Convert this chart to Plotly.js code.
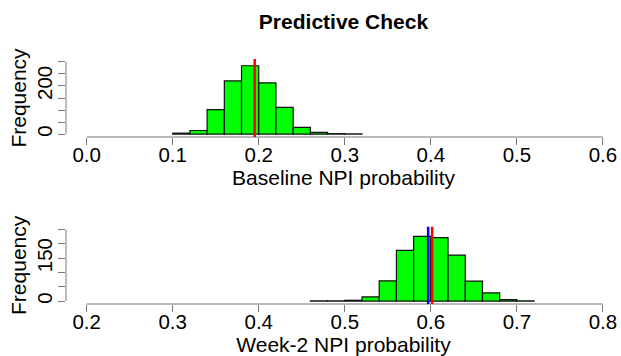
<!DOCTYPE html>
<html>
<head>
<meta charset="utf-8">
<script src="https://cdn.plot.ly/plotly-3.0.1.min.js"></script>
<style>html,body{margin:0;padding:0;background:#fff;}#chart{width:621px;height:356px;}</style>
</head>
<body>
<div id="chart"></div>
<script>
// Histogram breaks and counts
const baselineBreaks = [0.10,0.12,0.14,0.16,0.18,0.20,0.22,0.24,0.26,0.28,0.30,0.32];
const baselineCounts = [4,15,102,221,284,213,111,28,7,2,1];
const week2Breaks = [0.46,0.48,0.50,0.52,0.54,0.56,0.58,0.60,0.62,0.64,0.66,0.68,0.70,0.72];
const week2Counts = [1,1,3,15,71,177,226,222,161,70,29,5,1];
// Reference lines
const baselineObserved = [0.1953];          // red
const week2Observed = [0.6015];             // red
const week2Predicted = [0.5969];            // blue
// Axis ticks
const topXTicks = [0.0,0.1,0.2,0.3,0.4,0.5,0.6];
const topXLabels = ["0.0","0.1","0.2","0.3","0.4","0.5","0.6"];
const botXTicks = [0.2,0.3,0.4,0.5,0.6,0.7,0.8];
const botXLabels = ["0.2","0.3","0.4","0.5","0.6","0.7","0.8"];
const topYTicks = [0,50,100,150,200,250,300];
const topYLabels = ["0","","","","200","",""];
const botYTicks = [0,50,100,150,200,250];
const botYLabels = ["0","","","150","",""];

function mids(b){ const m=[]; for(let i=0;i<b.length-1;i++) m.push((b[i]+b[i+1])/2); return m; }
function widths(b){ const w=[]; for(let i=0;i<b.length-1;i++) w.push(b[i+1]-b[i]); return w; }

const FONT = "Liberation Sans, Arial, Helvetica, sans-serif";
const axisGray = "#777777";

const traces = [
  {type:"bar", x:mids(baselineBreaks), y:baselineCounts, width:widths(baselineBreaks),
   xaxis:"x", yaxis:"y", marker:{color:"#00FF00", line:{color:"#111111", width:1.2}}, hoverinfo:"x+y"},
  {type:"bar", x:mids(week2Breaks), y:week2Counts, width:widths(week2Breaks),
   xaxis:"x2", yaxis:"y2", marker:{color:"#00FF00", line:{color:"#111111", width:1.2}}, hoverinfo:"x+y"}
];

const shapes = [];
function axisLines(xref, yref, xt, yt){
  shapes.push({type:"line", xref:xref, yref:yref+" domain", x0:xt[0], x1:xt[xt.length-1], y0:0, y1:0,
               line:{color:axisGray, width:1}});
  shapes.push({type:"line", xref:xref+" domain", yref:yref, x0:0, x1:0, y0:yt[0], y1:yt[yt.length-1],
               line:{color:axisGray, width:1}});
}
axisLines("x","y",topXTicks,topYTicks);
axisLines("x2","y2",botXTicks,botYTicks);
function vline(xref,yref,v,color){
  shapes.push({type:"line", xref:xref, yref:yref+" domain", x0:v, x1:v, y0:0, y1:1, line:{color:color, width:2.5}});
}
baselineObserved.forEach(v=>vline("x","y",v,"#FF0000"));
week2Predicted.forEach(v=>vline("x2","y2",v,"#0000FF"));
week2Observed.forEach(v=>vline("x2","y2",v,"#FF0000"));

function xax(ticks, labels, range, anchor, title){
  return {range:range, anchor:anchor, domain:[0,1], showgrid:false, zeroline:false, showline:false,
    tickmode:"array", tickvals:ticks, ticktext:labels, ticks:"outside", ticklen:7, tickwidth:1, tickcolor:axisGray,
    ticklabelstandoff:-8,
    tickfont:{family:FONT, size:20.5, color:"#000"},
    title:{text:title, font:{family:FONT, size:21, color:"#000"}, standoff:5}, fixedrange:true};
}
function yax(ticks, labels, range, domain, anchor){
  return {range:range, domain:domain, anchor:anchor, showgrid:false, zeroline:false, showline:false,
    tickmode:"array", tickvals:ticks, ticktext:labels, ticks:"outside", ticklen:7, tickwidth:1, tickcolor:axisGray,
    ticklabelstandoff:-2,
    tickangle:-90, tickfont:{family:FONT, size:20.5, color:"#000"},
    title:{text:"Frequency", font:{family:FONT, size:21, color:"#000"}, standoff:0}, fixedrange:true};
}

const layout = {
  width:621, height:356, paper_bgcolor:"#fff", plot_bgcolor:"#fff",
  margin:{l:66.4, r:0, t:59, b:52, pad:0},
  showlegend:false, bargap:0,
  title:{text:"<b>Predictive Check</b>", font:{family:FONT, size:21, color:"#000"},
         x:0.5, xref:"paper", y:1-22/356, yref:"container", yanchor:"middle"},
  xaxis: xax(topXTicks, topXLabels, [-0.024, 0.621], "y", "Baseline NPI probability"),
  xaxis2: xax(botXTicks, botXLabels, [0.176, 0.821], "y2", "Week-2 NPI probability"),
  yaxis: yax(topYTicks, topYLabels, [-12, 312], [0.6816, 1], "x"),
  yaxis2: yax(botYTicks, botYLabels, [-10, 260], [0, 0.3155], "x2"),
  shapes: shapes
};

Plotly.newPlot("chart", traces, layout, {displayModeBar:false, staticPlot:true});
</script>
</body>
</html>
